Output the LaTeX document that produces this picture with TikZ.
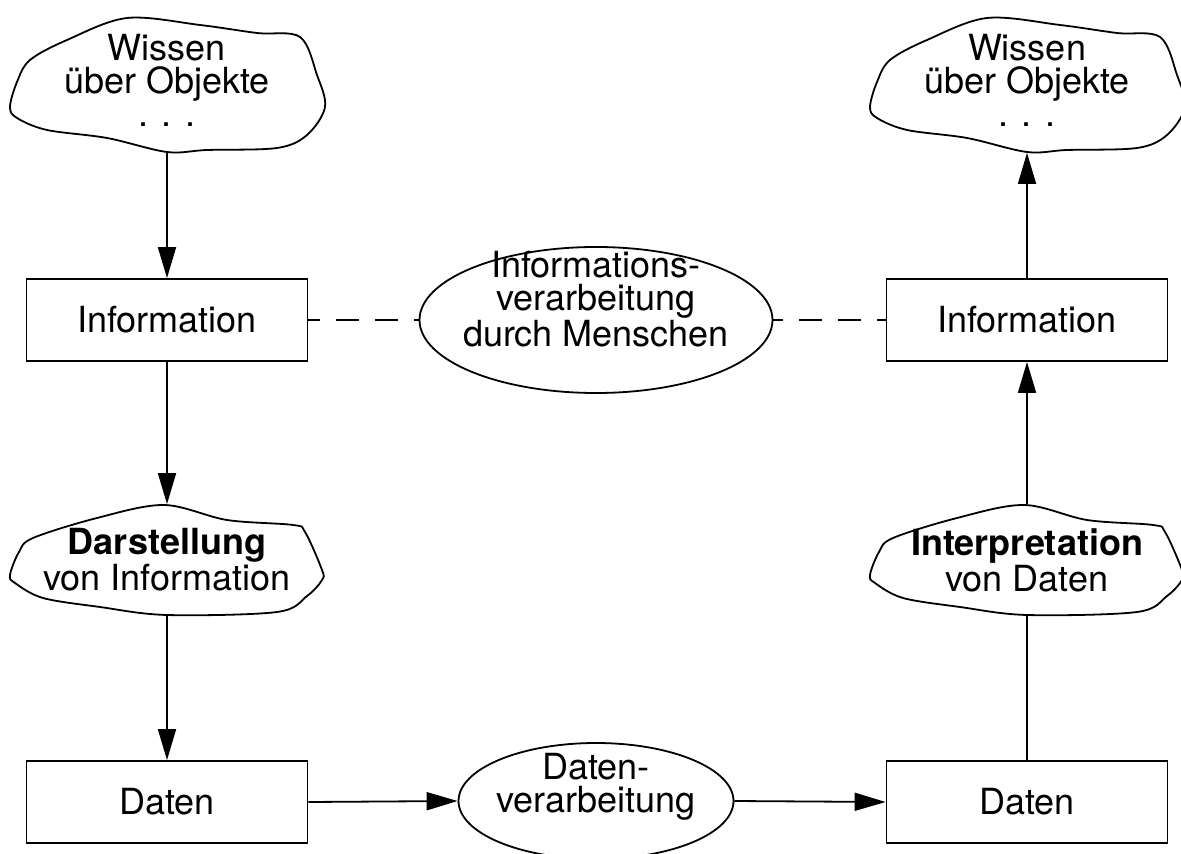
\documentclass[tikz,border=0pt]{standalone}
\usepackage{fontspec}
\setmainfont{TeX Gyre Heros}
\usetikzlibrary{arrows.meta,shapes.geometric}

\newcommand{\wolkeGross}[1]{%
  \draw[shift={(#1.center)}] plot[smooth cycle,tension=.55] coordinates
    {(-157,27) (-150,2) (-137,-20) (-100,-40) (-40,-62) (33,-55) (90,-47)
     (133,-43) (150,-5) (158,27) (140,55) (110,68) (40,70) (0,72)
     (-60,58) (-120,50) (-150,38)};}
\newcommand{\wolkeKlein}[1]{%
  \draw[shift={(#1.center)}] plot[smooth cycle,tension=.55] coordinates
    {(-157,15) (-148,-8) (-134,-22) (-70,-42) (-3,-55) (60,-40) (126,-35)
     (138,-28) (155,10) (155,20) (140,36) (110,52) (0,55) (-67,47)
     (-124,38) (-152,23)};}

\begin{document}
\begin{tikzpicture}[x=0.5pt,y=-0.5pt,line width=0.9pt,
    >={Triangle[length=15.5pt,width=9pt]},
    txt/.style={font=\fontsize{18}{16.5}\selectfont,align=center},
    kasten/.style={txt,rectangle,draw,minimum width=140.5pt,minimum height=41pt},
    oval/.style={ellipse,draw,inner sep=0pt},
    wolke/.style={txt,inner sep=0pt,minimum width=157.5pt}]
  \useasboundingbox (0,0) rectangle (1181,854);
  \path (167,80) node(wissenL) [wolke,minimum height=72pt] {Wissen\\über Objekte\\. . .}
    (167,320) node(infoL) [kasten] {Information}
    (167,560) node(darst) [wolke,minimum height=55pt] {\textbf{Darstellung}\\von Information}
    (167,802) node(datenL) [kasten] {Daten}
    (1027,80) node(wissenR) [wolke,minimum height=72pt] {Wissen\\über Objekte\\. . .}
    (1027,320) node(infoR) [kasten] {Information}
    (1027,560) node(interp) [wolke,minimum height=55pt] {\textbf{Interpretation}\\von Daten}
    (1027,802) node(datenR) [kasten] {Daten};
  \path (596,320) node(infoVerarb) [oval,minimum width=176.5pt,minimum height=73pt] {}
    (596,299) node(infoVerarbTxt) [txt] {Informations-\\verarbeitung\\durch Menschen}
    (596,801) node(datenVerarb) [oval,minimum width=137.5pt,minimum height=58pt] {}
    (596,787) node(datenVerarbTxt) [txt] {Daten-\\verarbeitung};
  \wolkeGross{wissenL} \wolkeGross{wissenR}
  \wolkeKlein{darst} \wolkeKlein{interp}
  \draw[->] (wissenL.south) -- (infoL.north);
  \draw[->] (infoL.south) -- (darst.north);
  \draw[->] (darst.south) -- (datenL.north);
  \draw[->] (datenL.east) -- (datenVerarb.west);
  \draw[->] (datenVerarb.east) -- (datenR.west);
  \draw (datenR.north) -- (interp.south);
  \draw[->] (interp.north) -- (infoR.south);
  \draw[->] (infoR.north) -- (wissenR.south);
  \draw[dash pattern=on 11.5pt off 8pt,dash phase=5.5pt] (infoL.east) -- (infoVerarb.west);
  \draw[dash pattern=on 11.5pt off 8pt,dash phase=6.5pt] (infoVerarb.east) -- (infoR.west);
\end{tikzpicture}
\end{document}
